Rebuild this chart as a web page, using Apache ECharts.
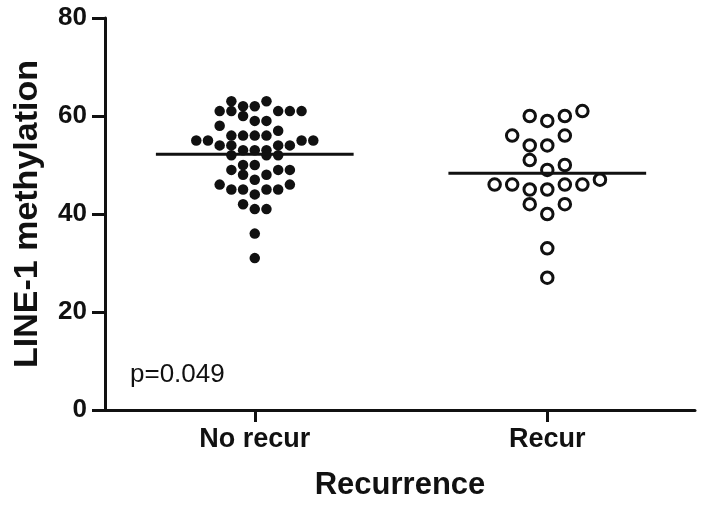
<!DOCTYPE html>
<html>
	<head>
		<meta charset="UTF-8">
		<title>LINE-1 methylation</title>
		<script src="https://cdn.jsdelivr.net/npm/echarts@6/dist/echarts.min.js"></script>
	</head>
	<body style="margin:0">
		<div id="chart" style="width:704px; height:509px;"></div>
		<script>
			// groups on the x axis
			var categories = ['No recur', 'Recur'];

			// [value, column] ; column = horizontal dot slot inside the group
			var noRecur = [
				[63, -2], [63, 1],
				[62, -1], [62, 0],
				[61, -3], [61, -2], [61, 2], [61, 3], [61, 4],
				[60, -1],
				[59, 0], [59, 1],
				[58, -3],
				[57, 2],
				[56, -2], [56, -1], [56, 0], [56, 1],
				[55, -5], [55, -4], [55, 4], [55, 5],
				[54, -3], [54, -2], [54, 2], [54, 3],
				[53, -1], [53, 0], [53, 1],
				[52, -2], [52, 1], [52, 2],
				[50, -1], [50, 0],
				[49, -2], [49, 2], [49, 3],
				[48, -1], [48, 1],
				[47, 0],
				[46, -3], [46, 3],
				[45, -2], [45, -1], [45, 1], [45, 2],
				[44, 0],
				[42, -1],
				[41, 0], [41, 1],
				[36, 0],
				[31, 0]
			];
			var recur = [
				[61, 2],
				[60, -1], [60, 1],
				[59, 0],
				[56, -2], [56, 1],
				[54, -1], [54, 0],
				[51, -1],
				[50, 1],
				[49, 0],
				[47, 3],
				[46, -3], [46, -2], [46, 1], [46, 2],
				[45, -1], [45, 0],
				[42, -1], [42, 1],
				[40, 0],
				[33, 0],
				[27, 0]
			];
			// group means (horizontal bars)
			var means = [52.2, 48.3];

			var yTicks = [0, 20, 40, 60, 80];
			var pText = 'p=0.049';

			var ink = '#111';
			var font = 'Liberation Sans, Arial, sans-serif';
			var slotNo = 0.040, slotRe = 0.060, half = 0.338;

			function toPoints(arr, idx, slot) {
				return arr.map(function (d) { return [idx + d[1] * slot, d[0]]; });
			}
			function meanLine(i) {
				return {
					type: 'line', z: 5, symbol: 'none', silent: true,
					lineStyle: { color: ink, width: 3 },
					data: [[i - half, means[i]], [i + half, means[i]]]
				};
			}

			var chart = echarts.init(document.getElementById('chart'), null, { renderer: 'canvas' });
			chart.setOption({
				animation: false,
				backgroundColor: '#fff',
				grid: { left: 105, right: 9, top: 18, bottom: 99 },
				xAxis: {
					type: 'value', min: -0.512, max: 1.505,
					name: 'Recurrence', nameLocation: 'middle', nameGap: 60,
					nameTextStyle: { color: ink, fontSize: 31, fontWeight: 'bold', fontFamily: font },
					axisLine: { onZero: false, lineStyle: { color: ink, width: 3 } },
					axisTick: { customValues: [0, 1], length: 12, lineStyle: { color: ink, width: 3 } },
					axisLabel: {
						customValues: [0, 1], margin: 16,
						color: ink, fontSize: 27, fontWeight: 'bold', fontFamily: font,
						formatter: function (v) { return categories[Math.round(v)]; }
					},
					splitLine: { show: false }
				},
				yAxis: {
					type: 'value', min: yTicks[0], max: yTicks[yTicks.length - 1], interval: 20,
					name: 'LINE-1 methylation', nameLocation: 'middle', nameGap: 60,
					nameTextStyle: { color: ink, fontSize: 34, fontWeight: 'bold', fontFamily: font },
					axisLine: { show: true, onZero: false, lineStyle: { color: ink, width: 3 } },
					axisTick: { show: true, length: 13, lineStyle: { color: ink, width: 3 } },
					axisLabel: { margin: 18, color: ink, fontSize: 26, fontWeight: 'bold', fontFamily: font },
					splitLine: { show: false }
				},
				graphic: [{
					type: 'text', left: 130, top: 362,
					style: { text: pText, fill: ink, font: '26px ' + font }
				}],
				series: [
					{
						type: 'scatter', symbol: 'circle', symbolSize: 10.5,
						itemStyle: { color: ink, opacity: 1 },
						data: toPoints(noRecur, 0, slotNo)
					},
					{
						type: 'scatter', symbol: 'circle', symbolSize: 11.5,
						itemStyle: { color: '#fff', borderColor: ink, borderWidth: 3, opacity: 1 },
						data: toPoints(recur, 1, slotRe)
					},
					meanLine(0),
					meanLine(1)
				]
			});
		</script>
	</body>
</html>
